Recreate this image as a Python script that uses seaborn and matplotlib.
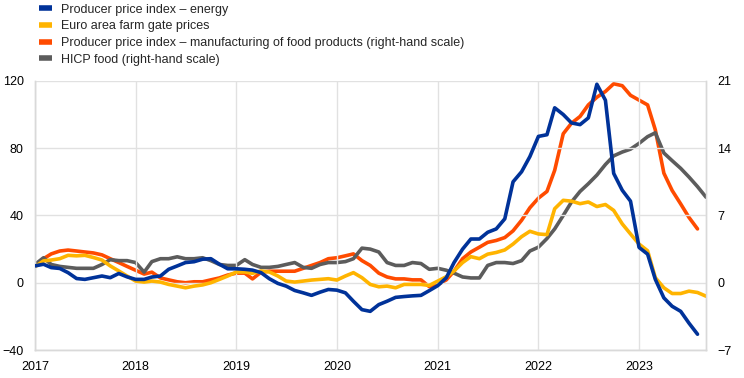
import pandas as pd
import matplotlib.pyplot as plt
import matplotlib.dates as mdates
import seaborn as sns

# -----------------------------------------------------------
# Data (monthly, Jan 2017 onwards, annual % changes)
# -----------------------------------------------------------
ppi_energy = [10, 11, 9, 8.5, 6, 2.5, 2, 3, 4, 3, 5.5, 3.5, 2, 2, 3.4, 4, 8, 10, 12, 12.5,
              14, 14.3, 11, 8.3, 8.3, 8, 7.5, 6, 2.4, -0.4, -2, -4.6, -6, -7.5, -5.6, -4, -4.4, -6, -11, -16,
              -17, -13, -11, -8.7, -8.2, -7.8, -7.5, -4.7, -1.7, 3, 12, 20, 26, 26, 30, 32, 38, 60, 66, 75,
              87, 88, 104, 100, 95, 94, 98, 118, 108.5, 65, 55, 48.5, 21, 17, 2, -9, -14, -17, -24, -30.6]

farm_gate = [9.5, 13, 13.5, 14.3, 16.3, 16, 16.3, 15, 13.5, 10, 7, 4, 1, 0.4, 1, 0.4, -1, -2, -3, -2,
             -1.3, 0, 2, 4, 6.4, 6.4, 5.6, 7, 6.4, 4, 1, 0.4, 1, 1.6, 2, 2.4, 1.6, 4, 6, 3,
             -1, -2.4, -2, -3, -1, -1, -1, -1.6, 1, 3.6, 7, 12, 15.5, 14.3, 17, 18, 19.5, 23, 27.4, 30.6,
             29, 28.6, 44, 49, 48.5, 47, 48, 45.3, 46.5, 43, 35, 29, 23, 19, 3, -3, -6.4, -6.4, -5, -5.8, -8]

# right-hand scale
ppi_food = [1.8, 2.5, 3.0, 3.3, 3.4, 3.3, 3.2, 3.1, 2.9, 2.5, 2.1, 1.7, 1.3, 0.9, 1.1, 0.5, 0.3, 0.1, 0.0, 0.1,
            0.1, 0.3, 0.5, 0.8, 1.0, 1.0, 0.4, 1.1, 1.2, 1.2, 1.2, 1.2, 1.5, 1.8, 2.1, 2.5, 2.6, 2.8, 3.0, 2.3,
            1.8, 1.0, 0.6, 0.4, 0.4, 0.3, 0.3, -0.4, -0.2, 0.3, 1.2, 2.5, 3.2, 3.7, 4.2, 4.4, 4.7, 5.4, 6.5, 7.8,
            8.8, 9.5, 11.7, 15.5, 16.6, 17.3, 18.5, 19.3, 19.9, 20.7, 20.5, 19.5, 19.0, 18.5, 15.9, 11.4, 9.6, 8.2, 6.8, 5.6]

hicp_food = [1.9, 2.6, 1.9, 1.7, 1.6, 1.5, 1.5, 1.5, 1.9, 2.4, 2.3, 2.3, 2.1, 1.1, 2.2, 2.5, 2.5, 2.7, 2.5, 2.5,
             2.6, 2.3, 1.9, 1.8, 1.8, 2.4, 1.9, 1.6, 1.6, 1.7, 1.9, 2.1, 1.6, 1.5, 1.9, 2.1, 2.1, 2.2, 2.5, 3.6,
             3.5, 3.2, 2.1, 1.8, 1.8, 2.1, 2.0, 1.4, 1.5, 1.3, 1.0, 0.6, 0.5, 0.5, 1.8, 2.1, 2.1, 2.0, 2.3, 3.3,
             3.7, 4.6, 5.6, 7.0, 8.4, 9.5, 10.3, 11.2, 12.3, 13.2, 13.6, 13.9, 14.5, 15.2, 15.6, 13.5, 12.7, 11.9, 11.0, 10.0, 8.9]

labels = ["Producer price index \u2013 energy",
          "Euro area farm gate prices",
          "Producer price index \u2013 manufacturing of food products (right-hand scale)",
          "HICP food (right-hand scale)"]
colors = ["#003299", "#FFB400", "#FF4B00", "#5C5C5C"]

left_ticks = [-40, 0, 40, 80, 120]
right_ticks = [-7, 0, 7, 14, 21]
years = list(range(2017, 2024))

# -----------------------------------------------------------
# Frames
# -----------------------------------------------------------
def frame(vals):
    return pd.DataFrame({"date": pd.date_range("2017-01-01", periods=len(vals), freq="MS"),
                         "value": vals})

# -----------------------------------------------------------
# Plot
# -----------------------------------------------------------
sns.set_theme(style="white")
plt.rcParams["font.family"] = ["Liberation Sans", "DejaVu Sans"]

fig = plt.figure(figsize=(7.44, 3.78), dpi=100)
ax = fig.add_axes([0.047, 0.074, 0.902, 0.712])
ax2 = ax.twinx()

lw = 2.6
sns.lineplot(data=frame(ppi_energy), x="date", y="value", ax=ax, color=colors[0], lw=lw, zorder=3)
sns.lineplot(data=frame(farm_gate), x="date", y="value", ax=ax, color=colors[1], lw=lw, zorder=2)
sns.lineplot(data=frame(ppi_food), x="date", y="value", ax=ax2, color=colors[2], lw=lw, zorder=2)
sns.lineplot(data=frame(hicp_food), x="date", y="value", ax=ax2, color=colors[3], lw=lw, zorder=3)

ax.set_xlim(pd.Timestamp("2017-01-01"), pd.Timestamp("2023-09-01"))
ax.set_ylim(-40, 120)
ax2.set_ylim(-7, 21)
ax.set_yticks(left_ticks)
ax2.set_yticks(right_ticks)
ax.set_xticks([pd.Timestamp(f"{y}-01-01") for y in years])
ax.xaxis.set_major_formatter(mdates.DateFormatter("%Y"))

for a in (ax, ax2):
    a.set_xlabel("")
    a.set_ylabel("")
    a.tick_params(axis="y", length=0, labelsize=9, colors="black", pad=8)
    a.tick_params(axis="x", length=0, labelsize=9, colors="black", pad=8)
    for side, sp in a.spines.items():
        sp.set_color("#D9D9D9")
        sp.set_linewidth(1)
    a.spines["top"].set_visible(False)

ax.grid(True, color="#E1E1E1", lw=1)
ax.set_axisbelow(True)
ax.set_zorder(ax2.get_zorder() + 1)
ax.patch.set_visible(False)

handles = [plt.Line2D([], [], color=c, lw=4, solid_capstyle="butt") for c in colors]
fig.legend(handles, labels, loc="upper left", bbox_to_anchor=(0.042, 1.01), frameon=False,
           fontsize=9, handlelength=1.05, handletextpad=0.7, labelspacing=0.37, borderaxespad=0.2)

fig.savefig("out.png", dpi=100)
